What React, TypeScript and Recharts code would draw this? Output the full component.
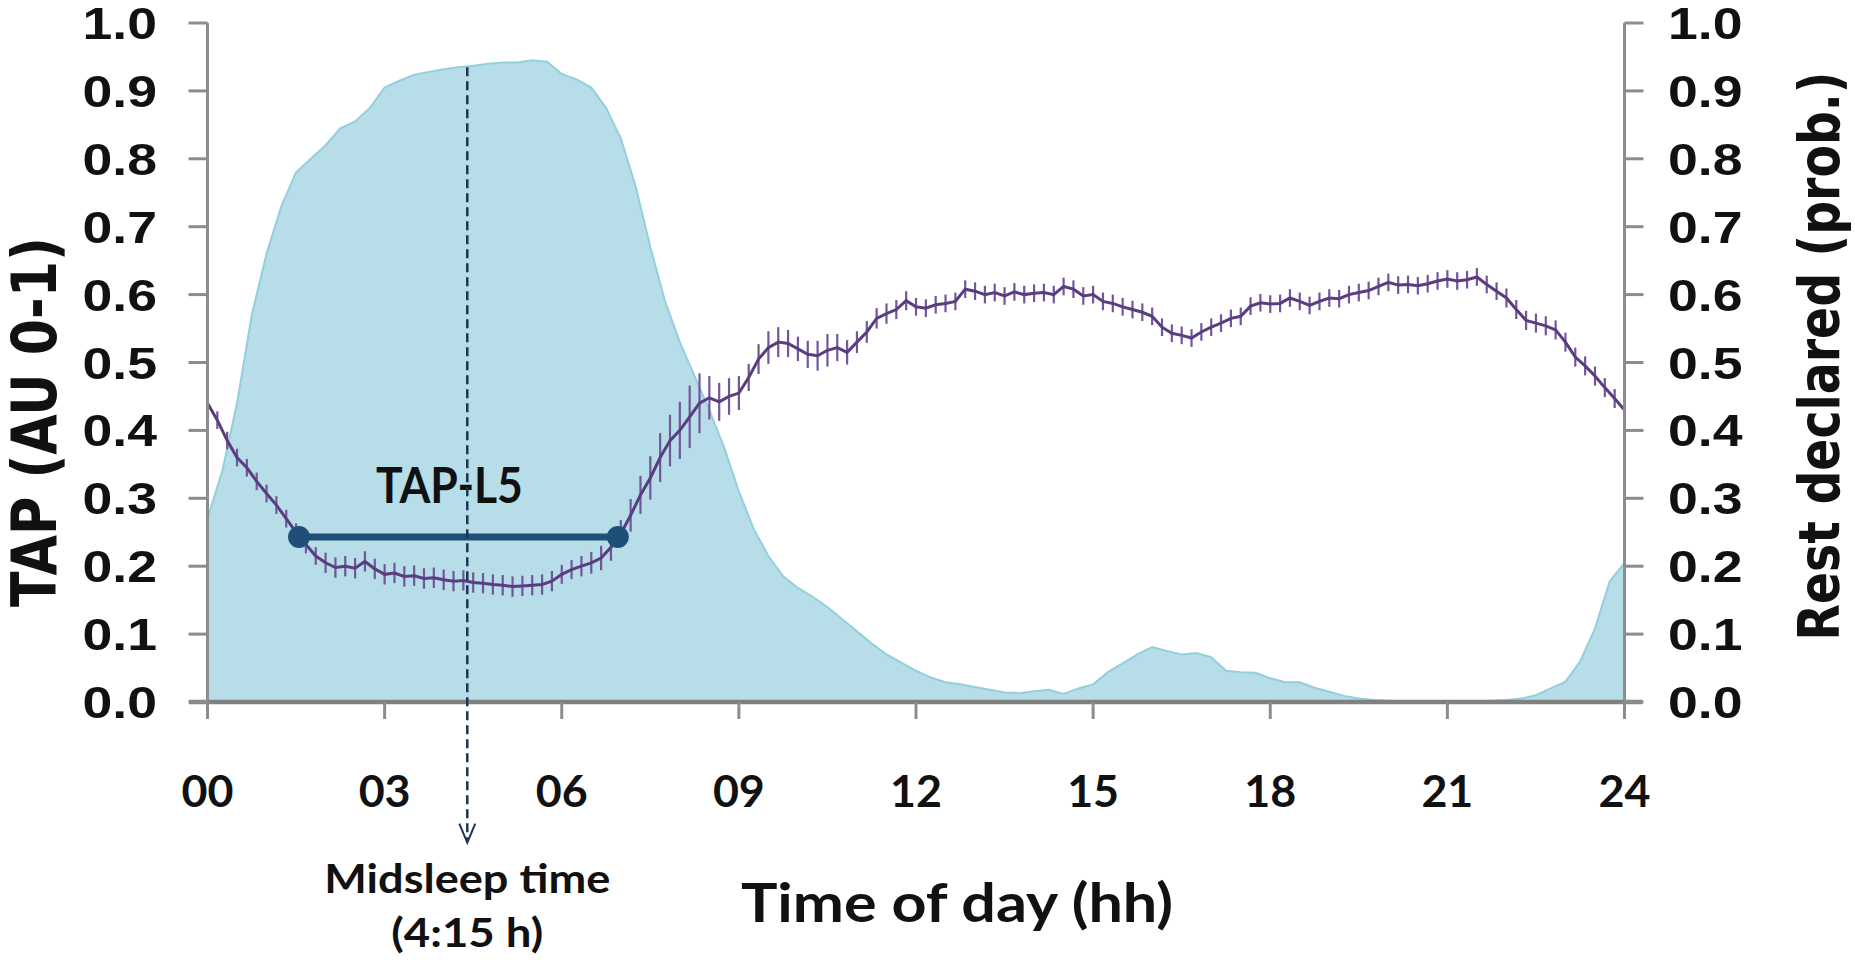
import React from "react";
import {
  ComposedChart,
  Area,
  Line,
  XAxis,
  YAxis,
  ErrorBar,
  ReferenceLine,
} from "recharts";

// x axis: time of day in hours, y axes: 0..1
const hourTicks = [0, 3, 6, 9, 12, 15, 18, 21, 24];
const valueTicks = [0, 0.1, 0.2, 0.3, 0.4, 0.5, 0.6, 0.7, 0.8, 0.9, 1];

// TAP (AU 0-1), one value every 10 min, 00:00 .. 24:00
const tapValues = [
  0.44, 0.415, 0.385, 0.36, 0.345, 0.325,
  0.307, 0.29, 0.27, 0.25, 0.232, 0.215,
  0.205, 0.198, 0.2, 0.197, 0.207, 0.196,
  0.188, 0.19, 0.185, 0.186, 0.182, 0.183,
  0.18, 0.178, 0.179, 0.176, 0.175, 0.173,
  0.172, 0.17, 0.171, 0.172, 0.173, 0.178,
  0.188, 0.195, 0.2, 0.205, 0.212, 0.228,
  0.248, 0.275, 0.305, 0.33, 0.36, 0.385,
  0.4, 0.42, 0.44, 0.448, 0.442, 0.45,
  0.455, 0.478, 0.505, 0.522, 0.53, 0.528,
  0.52, 0.512, 0.51, 0.518, 0.522, 0.515,
  0.53, 0.545, 0.565, 0.572, 0.578, 0.591,
  0.582, 0.58, 0.585, 0.587, 0.59, 0.608,
  0.605, 0.6, 0.603, 0.598, 0.604, 0.6,
  0.602, 0.603, 0.6, 0.612, 0.608, 0.598,
  0.6, 0.59, 0.587, 0.582, 0.578, 0.574,
  0.568, 0.552, 0.543, 0.54, 0.536, 0.545,
  0.552, 0.558, 0.565, 0.568, 0.583, 0.588,
  0.586, 0.587, 0.595, 0.59, 0.584, 0.59,
  0.595, 0.594, 0.6, 0.603, 0.606, 0.612,
  0.618, 0.614, 0.615, 0.613, 0.616, 0.62,
  0.623, 0.62, 0.622, 0.626, 0.615, 0.605,
  0.595, 0.578, 0.562, 0.558, 0.554, 0.548,
  0.53, 0.508, 0.495, 0.48, 0.463, 0.447,
  0.43,
];

// half length of the error ticks on the TAP curve
const tapErrors = [
  0.013, 0.013, 0.013, 0.013, 0.013, 0.013,
  0.013, 0.013, 0.013, 0.013, 0.013, 0.013,
  0.015, 0.015, 0.015, 0.015, 0.015, 0.015,
  0.015, 0.015, 0.015, 0.015, 0.015, 0.015,
  0.015, 0.015, 0.015, 0.015, 0.015, 0.015,
  0.015, 0.015, 0.015, 0.015, 0.015, 0.015,
  0.014, 0.014, 0.015, 0.016, 0.018, 0.02,
  0.02, 0.024, 0.028, 0.032, 0.036, 0.038,
  0.042, 0.046, 0.044, 0.032, 0.028, 0.027,
  0.025, 0.02, 0.022, 0.024, 0.022, 0.02,
  0.018, 0.02, 0.022, 0.024, 0.02, 0.018,
  0.016, 0.016, 0.015, 0.015, 0.014, 0.014,
  0.013, 0.013, 0.013, 0.013, 0.013, 0.013,
  0.013, 0.013, 0.013, 0.013, 0.013, 0.013,
  0.013, 0.013, 0.013, 0.013, 0.013, 0.013,
  0.013, 0.013, 0.013, 0.013, 0.013, 0.013,
  0.013, 0.013, 0.013, 0.013, 0.013, 0.013,
  0.013, 0.013, 0.013, 0.013, 0.013, 0.013,
  0.013, 0.013, 0.013, 0.013, 0.013, 0.013,
  0.013, 0.013, 0.013, 0.013, 0.013, 0.013,
  0.013, 0.013, 0.013, 0.013, 0.013, 0.013,
  0.013, 0.013, 0.013, 0.013, 0.013, 0.013,
  0.014, 0.014, 0.014, 0.014, 0.014, 0.014,
  0.014, 0.014, 0.014, 0.014, 0.014, 0.014,
  0.014,
];

// Rest declared (prob.), one value every 15 min, 00:00 .. 24:00
const restValues = [
  0.27, 0.34, 0.44, 0.57,
  0.66, 0.73, 0.78, 0.8,
  0.82, 0.845, 0.855, 0.875,
  0.905, 0.915, 0.924, 0.928,
  0.932, 0.935, 0.937, 0.94,
  0.942, 0.942, 0.945, 0.943,
  0.925, 0.917, 0.905, 0.875,
  0.83, 0.76, 0.67, 0.59,
  0.53, 0.48, 0.43, 0.375,
  0.31, 0.255, 0.215, 0.185,
  0.168, 0.155, 0.14, 0.122,
  0.104, 0.086, 0.07, 0.058,
  0.046, 0.036, 0.029, 0.026,
  0.022, 0.018, 0.014, 0.013,
  0.016, 0.018, 0.012, 0.02,
  0.026, 0.044, 0.057, 0.07,
  0.081, 0.075, 0.07, 0.072,
  0.066, 0.046, 0.044, 0.043,
  0.035, 0.029, 0.029, 0.021,
  0.015, 0.009, 0.005, 0.003,
  0.002, 0.001, 0.001, 0.001,
  0.001, 0.001, 0.001, 0.002,
  0.003, 0.005, 0.01, 0.02,
  0.03, 0.06, 0.108, 0.178,
  0.205,
];

// annotations
const l5Start = 1.55;
const l5End = 6.95;
const l5Level = 0.243;
const midsleep = 4.4;
const midsleepTop = 0.935;
const midsleepArrowEnd = -0.207;

const tapData = tapValues.map((v, i) => ({ h: i / 6, tap: v, err: tapErrors[i] }));
const restData = restValues.map((v, i) => ({ h: i / 4, rest: v }));

const calibri = "Lato, 'Open Sans', sans-serif";
const helv = "'Liberation Sans', Arial, sans-serif";
const verdana = "'DejaVu Sans', Verdana, sans-serif";

const LeftTick = (props: any) => {
  const { x, y, payload } = props;
  return (
    <text
      transform={`translate(${x},${y + 16}) scale(1.19,1)`}
      textAnchor="end"
      fontFamily={helv}
      fontWeight="bold"
      fontSize={45}
      fill="#111"
    >
      {payload.value.toFixed(1)}
    </text>
  );
};

const RightTick = (props: any) => {
  const { x, y, payload } = props;
  return (
    <text
      transform={`translate(${x},${y + 16}) scale(1.19,1)`}
      textAnchor="start"
      fontFamily={helv}
      fontWeight="bold"
      fontSize={45}
      fill="#111"
    >
      {payload.value.toFixed(1)}
    </text>
  );
};

const HourTick = (props: any) => {
  const { x, y, payload } = props;
  return (
    <text
      x={x}
      y={y}
      textAnchor="middle"
      fontFamily={calibri}
      fontWeight={700}
      fontSize={43}
      textLength={52}
      lengthAdjust="spacingAndGlyphs"
      fill="#111"
    >
      {String(payload.value).padStart(2, "0")}
    </text>
  );
};

const L5Shape = (props: any) => {
  const { x1, y1, x2, y2 } = props;
  const c = "#1f4e79";
  return (
    <g>
      <text
        x={(x1 + x2) / 2 - 9}
        y={y1 - 34}
        textAnchor="middle"
        fontFamily={calibri}
        fontWeight={700}
        fontSize={49}
        textLength={147}
        lengthAdjust="spacingAndGlyphs"
        fill="#111"
      >
        TAP-L5
      </text>
      <line x1={x1} y1={y1} x2={x2} y2={y2} stroke={c} strokeWidth={7} />
      <circle cx={x1} cy={y1} r={11} fill={c} />
      <circle cx={x2} cy={y2} r={11} fill={c} />
    </g>
  );
};

const MidsleepShape = (props: any) => {
  const { x1, y1, x2, y2 } = props;
  const c = "#1c3553";
  return (
    <g>
      <line x1={x1} y1={y1} x2={x2} y2={y2 - 2} stroke={c} strokeWidth={2.5} strokeDasharray="9 5" />
      <path
        d={`M${x2 - 8},${y2 - 19} L${x2},${y2} L${x2 + 8},${y2 - 19}`}
        fill="none"
        stroke={c}
        strokeWidth={2}
      />
      <text
        x={x2}
        y={y2 + 50}
        textAnchor="middle"
        fontFamily={calibri}
        fontWeight={700}
        fontSize={40}
        textLength={286}
        lengthAdjust="spacingAndGlyphs"
        fill="#111"
      >
        Midsleep time
      </text>
      <text
        x={x2}
        y={y2 + 104}
        textAnchor="middle"
        fontFamily={calibri}
        fontWeight={700}
        fontSize={40}
        textLength={152}
        lengthAdjust="spacingAndGlyphs"
        fill="#111"
      >
        (4:15 h)
      </text>
    </g>
  );
};

export default function App() {
  return (
    <div style={{ position: "absolute", left: 0, top: 0, width: 1855, height: 967, background: "#fff" }}>
      <ComposedChart
        width={1855}
        height={967}
        margin={{ top: 23, right: 130.5, bottom: 205, left: 107.5 }}
      >
        <XAxis
          dataKey="h"
          type="number"
          domain={[0, 24]}
          ticks={hourTicks}
          axisLine={false}
          tickLine={{ stroke: "#8c8c8c", strokeWidth: 3 }}
          tickSize={17}
          tickMargin={88}
          height={60}
          tick={<HourTick />}
          label={{
            content: () => (
              <text
                x={957}
                y={922}
                textAnchor="middle"
                fontFamily={calibri}
                fontWeight={700}
                fontSize={54}
                textLength={432}
                lengthAdjust="spacingAndGlyphs"
                fill="#111"
              >
                Time of day (hh)
              </text>
            ),
          }}
        />
        <YAxis
          yAxisId="tap"
          orientation="left"
          domain={[0, 1]}
          ticks={valueTicks}
          width={100}
          axisLine={{ stroke: "#8c8c8c", strokeWidth: 3 }}
          tickLine={{ stroke: "#8c8c8c", strokeWidth: 3 }}
          tickSize={19}
          tickMargin={31.5}
          tick={<LeftTick />}
          label={{
            content: () => (
              <text
                transform="translate(56,422) scale(1.19,1) rotate(-90)"
                textAnchor="middle"
                fontFamily={verdana}
                fontWeight="bold"
                fontSize={52}
                textLength={370}
                lengthAdjust="spacingAndGlyphs"
                fill="#111"
              >
                TAP (AU 0-1)
              </text>
            ),
          }}
        />
        <YAxis
          yAxisId="rest"
          orientation="right"
          domain={[0, 1]}
          ticks={valueTicks}
          width={100}
          axisLine={{ stroke: "#8c8c8c", strokeWidth: 3 }}
          tickLine={{ stroke: "#8c8c8c", strokeWidth: 3 }}
          tickSize={19}
          tickMargin={24.5}
          tick={<RightTick />}
          label={{
            content: () => (
              <text
                transform="translate(1839,356) scale(1.19,1) rotate(-90)"
                textAnchor="middle"
                fontFamily={verdana}
                fontWeight="bold"
                fontSize={47.5}
                textLength={569}
                lengthAdjust="spacingAndGlyphs"
                fill="#111"
              >
                Rest declared (prob.)
              </text>
            ),
          }}
        />
        <Area
          yAxisId="rest"
          data={restData}
          dataKey="rest"
          type="linear"
          stroke="#93cfdd"
          strokeWidth={2}
          fill="#b7dde8"
          fillOpacity={1}
          dot={false}
          activeDot={false}
          isAnimationActive={false}
        />
        <Line
          yAxisId="tap"
          data={tapData}
          dataKey="tap"
          type="linear"
          stroke="#5a3d7e"
          strokeWidth={3}
          dot={false}
          activeDot={false}
          isAnimationActive={false}
        >
          <ErrorBar
            dataKey="err"
            direction="y"
            width={0}
            stroke="#71579a"
            strokeWidth={2.2}
            isAnimationActive={false}
          />
        </Line>
        <ReferenceLine
          yAxisId="tap"
          segment={[
            { x: -0.313, y: 0 },
            { x: 24.3, y: 0 },
          ]}
          stroke="#808080"
          strokeWidth={4.5}
          ifOverflow="visible"
        />
        <ReferenceLine
          yAxisId="tap"
          segment={[
            { x: l5Start, y: l5Level },
            { x: l5End, y: l5Level },
          ]}
          ifOverflow="visible"
          shape={<L5Shape />}
        />
        <ReferenceLine
          yAxisId="tap"
          segment={[
            { x: midsleep, y: midsleepTop },
            { x: midsleep, y: midsleepArrowEnd },
          ]}
          ifOverflow="visible"
          shape={<MidsleepShape />}
        />
      </ComposedChart>
    </div>
  );
}
